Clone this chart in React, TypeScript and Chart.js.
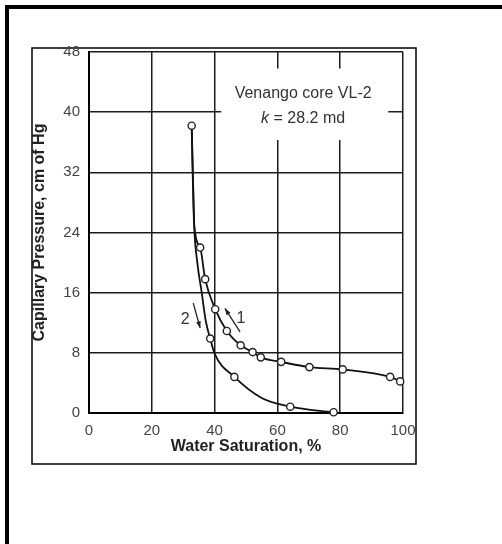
import { useEffect, useRef } from "react";
import { Chart, registerables } from "chart.js";

Chart.register(...registerables);

// Axis ticks
const saturationTicks = [0, 20, 40, 60, 80, 100];
const pressureTicks = [0, 8, 16, 24, 32, 40, 48];

// Curve 1: drainage (water saturation %, capillary pressure cm Hg)
const drainageSw = [32.7, 33.5, 35.4, 37.0, 40.2, 43.9, 48.3, 52.1, 54.7, 61.2, 70.2, 80.8, 95.9, 99.1];
const drainagePc = [38.2, 25.0, 22.0, 17.8, 13.8, 10.9, 9.0, 8.1, 7.4, 6.8, 6.1, 5.8, 4.8, 4.2];
const drainageMeasured = [true, false, true, true, true, true, true, true, true, true, true, true, true, true];

// Curve 2: imbibition
const imbibitionSw = [32.7, 33.5, 34.5, 35.9, 37.2, 38.6, 40.0, 46.3, 55.0, 64.1, 72.0, 77.9];
const imbibitionPc = [38.2, 25.0, 20.0, 16.0, 12.2, 9.9, 7.9, 4.8, 2.0, 0.84, 0.35, 0.1];
const imbibitionMeasured = [false, false, false, false, false, true, false, true, false, true, false, true];

// Sample annotation
const sampleName = "Venango core VL-2";
const permeabilityLabel = "28.2 md";

// Direction arrows: [fromSw, fromPc, toSw, toPc], label position and text
const arrowCurve2 = [33.2, 14.6, 35.4, 11.3];
const arrowCurve1 = [48.1, 10.8, 43.3, 13.9];
const arrowLabels = [
  { text: "2", sw: 30.6, pc: 12.4 },
  { text: "1", sw: 48.4, pc: 12.6 },
];

// Note box region in data units
const noteBox = { sw0: 42.1, sw1: 95.3, pc0: 36.3, pc1: 45.8 };
const noteLines = { sw: 68.2, pcTop: 42.5, pcBottom: 39.2 };

const FONT = "'Liberation Sans', Arial, sans-serif";

function toPx(chart: any, sw: number, pc: number) {
  return [chart.scales.x.getPixelForValue(sw), chart.scales.y.getPixelForValue(pc)];
}

const backdrop = {
  id: "backdrop",
  beforeDraw(chart: any) {
    const { ctx, width, height } = chart;
    ctx.save();
    ctx.fillStyle = "#fff";
    ctx.fillRect(0, 0, width, height);
    ctx.fillStyle = "#000";
    ctx.fillRect(5, 5, width - 5, 4);
    ctx.fillRect(5, 5, 4, height - 5);
    ctx.lineWidth = 1.5;
    ctx.strokeStyle = "#000";
    ctx.strokeRect(32, 48, 384, 416);
    ctx.restore();
  },
};

const note = {
  id: "note",
  beforeDatasetsDraw(chart: any) {
    const { ctx } = chart;
    const [x0, y0] = toPx(chart, noteBox.sw0, noteBox.pc1);
    const [x1, y1] = toPx(chart, noteBox.sw1, noteBox.pc0);
    ctx.save();
    ctx.fillStyle = "#fff";
    ctx.fillRect(x0, y0, x1 - x0, y1 - y0);

    ctx.fillStyle = "#333";
    ctx.textBaseline = "middle";
    ctx.textAlign = "center";
    ctx.font = `16px ${FONT}`;
    const [cx, ty] = toPx(chart, noteLines.sw, noteLines.pcTop);
    ctx.fillText(sampleName, cx, ty);

    const [, by] = toPx(chart, noteLines.sw, noteLines.pcBottom);
    ctx.textAlign = "left";
    ctx.font = `italic 16px ${FONT}`;
    const kW = ctx.measureText("k").width;
    ctx.font = `16px ${FONT}`;
    const rest = " = " + permeabilityLabel;
    const restW = ctx.measureText(rest).width;
    const start = cx - (kW + restW) / 2;
    ctx.font = `italic 16px ${FONT}`;
    ctx.fillText("k", start, by);
    ctx.font = `16px ${FONT}`;
    ctx.fillText(rest, start + kW, by);
    ctx.restore();
  },
};

function drawArrow(ctx: CanvasRenderingContext2D, x1: number, y1: number, x2: number, y2: number) {
  const ang = Math.atan2(y2 - y1, x2 - x1);
  const head = 7;
  ctx.beginPath();
  ctx.moveTo(x1, y1);
  ctx.lineTo(x2, y2);
  ctx.stroke();
  ctx.beginPath();
  ctx.moveTo(x2, y2);
  ctx.lineTo(x2 - head * Math.cos(ang - 0.35), y2 - head * Math.sin(ang - 0.35));
  ctx.lineTo(x2 - head * Math.cos(ang + 0.35), y2 - head * Math.sin(ang + 0.35));
  ctx.closePath();
  ctx.fill();
}

const arrows = {
  id: "arrows",
  afterDatasetsDraw(chart: any) {
    const { ctx } = chart;
    ctx.save();
    ctx.strokeStyle = "#222";
    ctx.fillStyle = "#222";
    ctx.lineWidth = 1.3;
    for (const a of [arrowCurve2, arrowCurve1]) {
      const [xa, ya] = toPx(chart, a[0], a[1]);
      const [xb, yb] = toPx(chart, a[2], a[3]);
      drawArrow(ctx, xa, ya, xb, yb);
    }
    ctx.fillStyle = "#333";
    ctx.font = `16px ${FONT}`;
    ctx.textAlign = "center";
    ctx.textBaseline = "middle";
    for (const l of arrowLabels) {
      const [x, y] = toPx(chart, l.sw, l.pc);
      ctx.fillText(l.text, x, y);
    }
    ctx.restore();
  },
};

function series(sw: number[], pc: number[], measured: boolean[]) {
  return {
    data: sw.map((x, i) => ({ x, y: pc[i] })),
    borderColor: "#111",
    borderWidth: 1.8,
    backgroundColor: "#fff",
    pointBackgroundColor: "#fff",
    pointBorderColor: "#222",
    pointBorderWidth: 1.4,
    pointRadius: measured.map((m) => (m ? 3.6 : 0)),
    cubicInterpolationMode: "monotone" as const,
    tension: 0.4,
    clip: false as any,
  };
}

export default function App() {
  const ref = useRef<HTMLCanvasElement | null>(null);

  useEffect(() => {
    if (!ref.current) return;
    const chart = new Chart(ref.current, {
      type: "line",
      data: {
        datasets: [
          series(drainageSw, drainagePc, drainageMeasured),
          series(imbibitionSw, imbibitionPc, imbibitionMeasured),
        ],
      },
      options: {
        responsive: false,
        animation: false,
        devicePixelRatio: 1,
        layout: { padding: { left: 30, top: 52, right: 99, bottom: 87.4 } },
        plugins: { legend: { display: false }, tooltip: { enabled: false } },
        scales: {
          x: {
            type: "linear",
            min: 0,
            max: 100,
            afterBuildTicks: (axis: any) => {
              axis.ticks = saturationTicks.map((value) => ({ value }));
            },
            afterFit: (axis: any) => {
              axis.height = 43.6;
            },
            grid: { color: "#1c1c1c", lineWidth: 1.5, drawTicks: false },
            border: { color: "#000", width: 2 },
            ticks: {
              padding: 9,
              color: "#444",
              font: { family: FONT, size: 15 },
              maxRotation: 0,
            },
            title: {
              display: true,
              text: "Water Saturation, %",
              color: "#222",
              padding: 0,
              font: { family: FONT, size: 16, weight: "bold" },
            },
          },
          y: {
            type: "linear",
            min: 0,
            max: 48,
            afterBuildTicks: (axis: any) => {
              axis.ticks = pressureTicks.map((value) => ({ value }));
            },
            afterFit: (axis: any) => {
              axis.width = 59;
            },
            grid: { color: "#1c1c1c", lineWidth: 1.5, drawTicks: false },
            border: { color: "#000", width: 2 },
            ticks: {
              padding: 9,
              color: "#444",
              font: { family: FONT, size: 15 },
            },
            title: {
              display: true,
              text: "Capillary Pressure, cm of Hg",
              color: "#222",
              padding: 0,
              font: { family: FONT, size: 16, weight: "bold" },
            },
          },
        },
      },
      plugins: [backdrop, note, arrows],
    });
    return () => chart.destroy();
  }, []);

  return (
    <div style={{ position: "fixed", left: 0, top: 0, width: 502, height: 544, background: "#fff" }}>
      <canvas ref={ref} width={502} height={544} style={{ display: "block", width: 502, height: 544 }} />
    </div>
  );
}
